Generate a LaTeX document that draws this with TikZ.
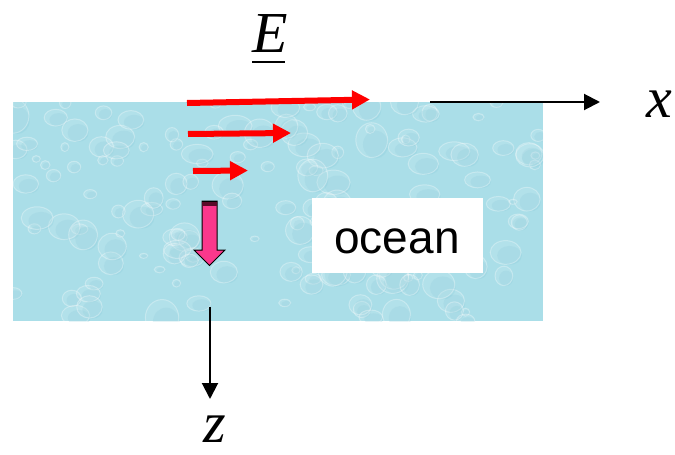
\documentclass[tikz,border=0pt]{standalone}
\usepackage{fontspec}
\setmainfont{Liberation Serif}
\newfontfamily\arialfont{Liberation Sans}
\usetikzlibrary{arrows.meta,calc}
\definecolor{oceanblue}{RGB}{170,222,232}
\definecolor{oceandeep}{RGB}{128,198,214}
\definecolor{efield}{RGB}{255,0,0}
\definecolor{kpink}{RGB}{250,56,140}
\definecolor{kband}{RGB}{90,10,40}
\begin{document}
\begin{tikzpicture}[x=1pt,y=-1pt,
  lbl/.style={inner sep=0pt,font=\fontsize{58}{60}\selectfont},
  earrow/.style={draw=efield,line width=6pt,-{Triangle[length=18pt,width=18pt]}},
  axis/.style={draw=black,line width=2pt,-{Triangle[length=16pt,width=16pt]}},
  bubble/.style={draw=white,draw opacity=0.3,fill=white,fill opacity=0.1,line width=1pt}]
\useasboundingbox (0,0) rectangle (675,455);
% ocean
\node[fill=oceanblue,minimum width=530pt,minimum height=219pt,inner sep=0pt,anchor=north west] (ocean) at (13,102) {};
\begin{scope}
\clip (13,102) rectangle (543,321);
\pgfmathsetseed{11}
\foreach \i in {1,...,160}{
  \pgfmathsetmacro{\bx}{13+530*rnd}
  \pgfmathsetmacro{\by}{102+219*rnd}
  \pgfmathsetmacro{\br}{4+13*rnd}
  \pgfmathsetmacro{\bh}{\br*(0.6+0.5*rnd)}
  \fill[oceandeep,opacity=0.22] (\bx+0.25*\br,\by+0.25*\bh) ellipse [x radius=0.8*\br, y radius=0.8*\bh];
  \draw[bubble] (\bx,\by) ellipse [x radius=\br, y radius=\bh];
}
\end{scope}
% ocean label
\node[fill=white,minimum width=171pt,minimum height=75pt,inner sep=0pt,anchor=north west] (obox) at (312,198) {};
\node[inner sep=0pt,anchor=base,font=\arialfont\fontsize{46}{48}\selectfont] (otext) at (397,253) {ocean};
% E label
\node[lbl,anchor=base] (E) at (270,52) {\textit{E}};
\coordinate (ulA) at (252,62);
\coordinate (ulB) at (285,62);
\draw[line width=2pt] (ulA) -- (ulB);
% E field arrows
\coordinate (e1a) at (187,103);
\coordinate (e1b) at (370,99.5);
\coordinate (e2a) at (188,134);
\coordinate (e2b) at (291,133);
\coordinate (e3a) at (193,171);
\coordinate (e3b) at (248,170.5);
\draw[earrow] (e1a) -- (e1b);
\draw[earrow] (e2a) -- (e2b);
\draw[earrow] (e3a) -- (e3b);
% pink block arrow
\draw[fill=kpink,line width=1pt,line join=miter] (202,201) -- (217,201) -- (217,250) -- (225,250) -- (209.5,265.5) -- (194,250) -- (202,250) -- cycle;
\fill[kband] (202,201) rectangle (217,205.5);
\draw[line width=1pt] (202,201) -- (217,201);
% axes
\coordinate (xa) at (430,102);
\coordinate (xb) at (600,102);
\draw[axis] (xa) -- (xb);
\node[lbl,anchor=base] (xl) at (659,117) {\textit{x}};
\coordinate (za) at (210,307);
\coordinate (zb) at (210,399);
\draw[axis] (za) -- (zb);
\node[lbl,anchor=base] (zl) at (215,442) {\textit{z}};
\end{tikzpicture}
\end{document}
